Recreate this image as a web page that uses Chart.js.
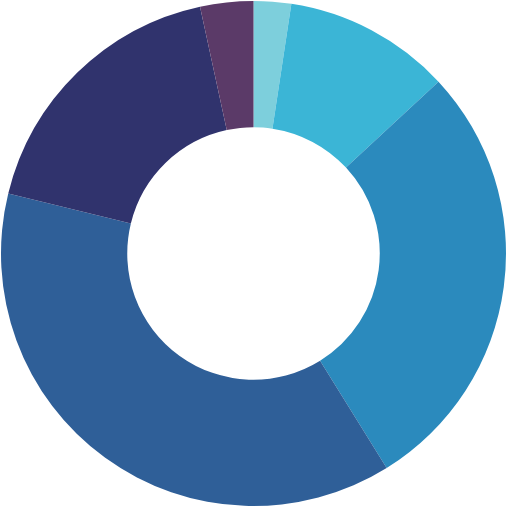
<!DOCTYPE html>
<html>
<head>
<meta charset="utf-8">
<script src="https://cdn.jsdelivr.net/npm/chart.js@4"></script>
<style>
  html, body { margin: 0; padding: 0; background: #fff; }
  #wrap { width: 507px; height: 507px; }
</style>
</head>
<body>
<div id="wrap"><canvas id="myChart"></canvas></div>
<script>
// Data (share of the ring, clockwise from top)
let labels = ["A", "B", "C", "D", "E", "F"];
let values = [2.4, 10.7, 28.1, 37.7, 17.8, 3.4];
let colors = ["#7dcfdc", "#3bb5d6", "#2b8abd", "#2f5f98", "#30336d", "#5b3a68"];

let ctx = document.getElementById("myChart");

new Chart(ctx, {
    type: "doughnut",
    data: {
        labels,
        datasets: [
            {
                data: values,
                backgroundColor: colors,
                borderWidth: 0,
            },
        ],
    },
    options: {
        responsive: true,
        maintainAspectRatio: false,
        animation: false,
        cutout: "50%",
        layout: { padding: 1 },
        plugins: {
            legend: { display: false },
            tooltip: { enabled: false },
        },
    },
});
</script>
</body>
</html>
